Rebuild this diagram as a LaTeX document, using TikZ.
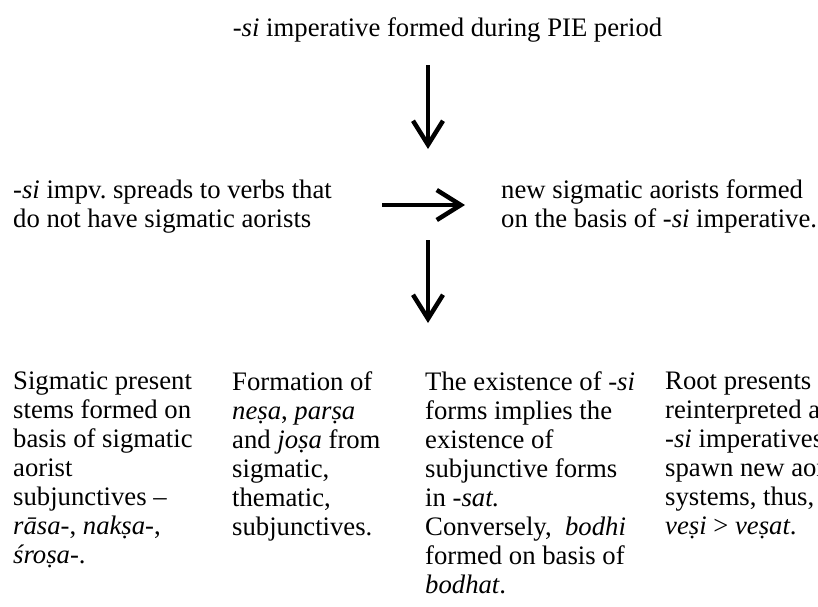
\documentclass[tikz,border=0pt]{standalone}
\usepackage{fontspec}
\setmainfont{Liberation Serif}
\usetikzlibrary{positioning}
\usetikzlibrary{arrows.meta}
\frenchspacing

\tikzset{
  flowtext/.style={inner sep=0pt,align=left,anchor=north west,font=\fontsize{26.7}{29}\selectfont,execute at begin node=\strut},
  flowarrow/.style={line width=4.5pt,-{Straight Barb[length=24pt,width=30pt]}}
}

\begin{document}
\begin{tikzpicture}[x=1pt,y=-1pt]
\useasboundingbox (0,0) rectangle (818,606);
\node (pie) [flowtext,anchor=base] at (447.5,36) {-\textit{si} imperative formed during PIE period};
\node (spread) [flowtext] at (13,179.7) {-\textit{si} impv. spreads to verbs that\\do not have sigmatic aorists};
\node (newaor) [flowtext] at (501,179.7) {new sigmatic aorists formed\\on the basis of -\textit{si} imperative.};
\node (sigpres) [flowtext] at (13,371.7) {Sigmatic present\\stems formed on\\basis of sigmatic\\aorist\\subjunctives –\\\textit{rāsa-}, \textit{nakṣa-},\\\textit{śroṣa-}.};
\node (nesa) [flowtext] at (232,371.7) {Formation of\\\textit{neṣa}, \textit{parṣa}\\and \textit{joṣa} from\\sigmatic,\\thematic,\\subjunctives.};
\node (bodhi) [flowtext] at (425,371.7) {The existence of -\textit{si}\\forms implies the\\existence of\\subjunctive forms\\in -\textit{sat.}\\Conversely,\ \ \textit{bodhi}\\formed on basis of\\\textit{bodhat}.};
\node (vesi) [flowtext] at (665,371.7) {Root presents\\reinterpreted as\\-\textit{si} imperatives\\spawn new aor\\systems, thus,\\\textit{veṣi} > \textit{veṣat}.};
% arrow ends
\coordinate (down1a) at (428,65);
\coordinate (down1b) at (428,149);
\coordinate (right1a) at (382,205);
\coordinate (right1b) at (465,205);
\coordinate (down2a) at (428,240);
\coordinate (down2b) at (428,323);
\draw[flowarrow] (down1a) -- (down1b);
\draw[flowarrow] (right1a) -- (right1b);
\draw[flowarrow] (down2a) -- (down2b);
\end{tikzpicture}
\end{document}
